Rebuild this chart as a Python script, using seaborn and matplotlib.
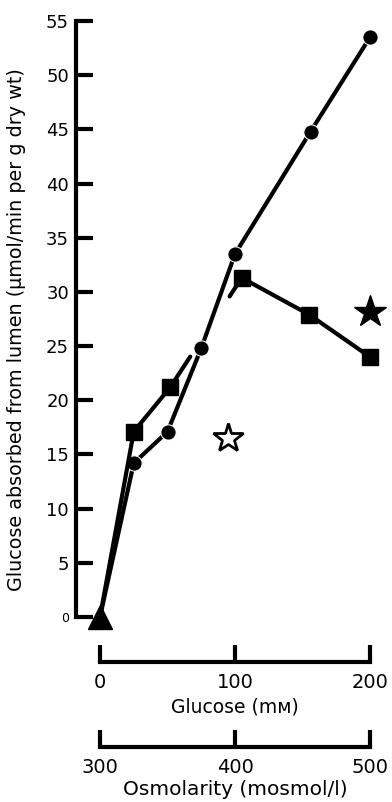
import numpy as np
import matplotlib
matplotlib.use("Agg")
import matplotlib.pyplot as plt
import seaborn as sns

# data
gluc_circ = [0, 25, 50, 75, 100, 156, 200]
abs_circ = [0, 14.2, 17.1, 24.8, 33.5, 44.8, 53.5]

gluc_sq = [0, 25, 52, 105, 155, 200]
abs_sq = [0, 17.1, 21.2, 31.3, 27.9, 24.0]

star_filled = (200, 28.1)
star_open = (95, 16.5)
origin = (0, 0)

yticks = list(range(0, 56, 5))
gluc_ticks = [0, 100, 200]
osm_ticks = [300, 400, 500]

sns.set_style("ticks")
plt.rcParams['font.family'] = ['DejaVu Sans']
plt.rcParams['text.color'] = 'black'
plt.rcParams['axes.labelcolor'] = 'black'
plt.rcParams['xtick.color'] = 'black'
plt.rcParams['ytick.color'] = 'black'

W, H = 392, 802
fig = plt.figure(figsize=(W / 100, H / 100), dpi=100)

# main axes, placed in pixels
x0, x1, ytop, ybot = 76, 385, 21, 617
ax = fig.add_axes([x0 / W, (H - ybot) / H, (x1 - x0) / W, (ybot - ytop) / H])
# glucose 0 -> px 100, 200 -> px 370
pxu = 270 / 200
ax.set_xlim((x0 - 100) / pxu, (x1 - 100) / pxu)
ax.set_ylim(0, 55)

lw = 3
# circles
sns.lineplot(x=gluc_circ, y=abs_circ, ax=ax, color='black', lw=lw, sort=False,
             marker='o', markersize=11, markevery=list(range(1, len(gluc_circ))),
             solid_capstyle='round', clip_on=False)

# squares: line broken where it passes behind the circle line
xs, ys = np.array(gluc_sq, float), np.array(abs_sq, float)
f1, f2 = 0.28, 0.83
pa = (xs[2] + f1 * (xs[3] - xs[2]), ys[2] + f1 * (ys[3] - ys[2]))
pb = (xs[2] + f2 * (xs[3] - xs[2]), ys[2] + f2 * (ys[3] - ys[2]))
sns.lineplot(x=list(xs[:3]) + [pa[0]], y=list(ys[:3]) + [pa[1]], ax=ax, sort=False,
             color='black', lw=lw, solid_capstyle='round', clip_on=False)
sns.lineplot(x=[pb[0]] + list(xs[3:]), y=[pb[1]] + list(ys[3:]), ax=ax, sort=False,
             color='black', lw=lw, solid_capstyle='round', clip_on=False)
ax.plot(xs[1:], ys[1:], ls='none', marker='s', ms=11, color='black', clip_on=False)

# triangle at origin and stars
ax.plot([origin[0]], [origin[1]], marker='^', ms=17, color='black', ls='none',
        clip_on=False, zorder=5)
ax.plot([star_filled[0]], [star_filled[1]], marker='*', ms=24, color='black',
        ls='none', clip_on=False)
ax.plot([star_open[0]], [star_open[1]], marker='*', ms=22, mfc='white', mec='black',
        mew=2, ls='none', clip_on=False)

for s in ['top', 'right', 'bottom']:
    ax.spines[s].set_visible(False)
ax.spines['left'].set_linewidth(3)
ax.spines['left'].set_color('black')
ax.set_xticks([])
ax.set_yticks(yticks)
ax.tick_params(axis='y', left=True, direction='in', length=12, width=3, pad=5,
               labelsize=13, colors='black')
ax.get_yticklabels()[0].set_fontsize(9)
ax.set_ylabel('Glucose absorbed from lumen (µmol/min per g dry wt)', fontsize=13.8)
ax.yaxis.set_label_coords(-0.162, 0.483)


def scale_axis(ypx, lo, hi, ticks, label, lsize, lpad):
    a = fig.add_axes([100 / W, (H - ypx) / H, 270 / W, 0.001])
    a.set_xlim(lo, hi)
    a.set_ylim(0, 1)
    for s in ['top', 'right', 'left']:
        a.spines[s].set_visible(False)
    a.spines['bottom'].set_linewidth(3)
    a.spines['bottom'].set_color('black')
    a.set_yticks([])
    a.set_xticks(ticks)
    a.tick_params(axis='x', bottom=True, direction='in', length=12, width=3, pad=8,
                  labelsize=14, colors='black')
    a.set_xlabel(label, fontsize=lsize, labelpad=lpad)
    a.patch.set_alpha(0)
    return a


scale_axis(662, 0, 200, gluc_ticks, 'Glucose (mᴍ)', 13.5, 4)
scale_axis(747, 300, 500, osm_ticks, 'Osmolarity (mosmol/l)', 14.5, 2)

fig.savefig('out.png', dpi=100)
